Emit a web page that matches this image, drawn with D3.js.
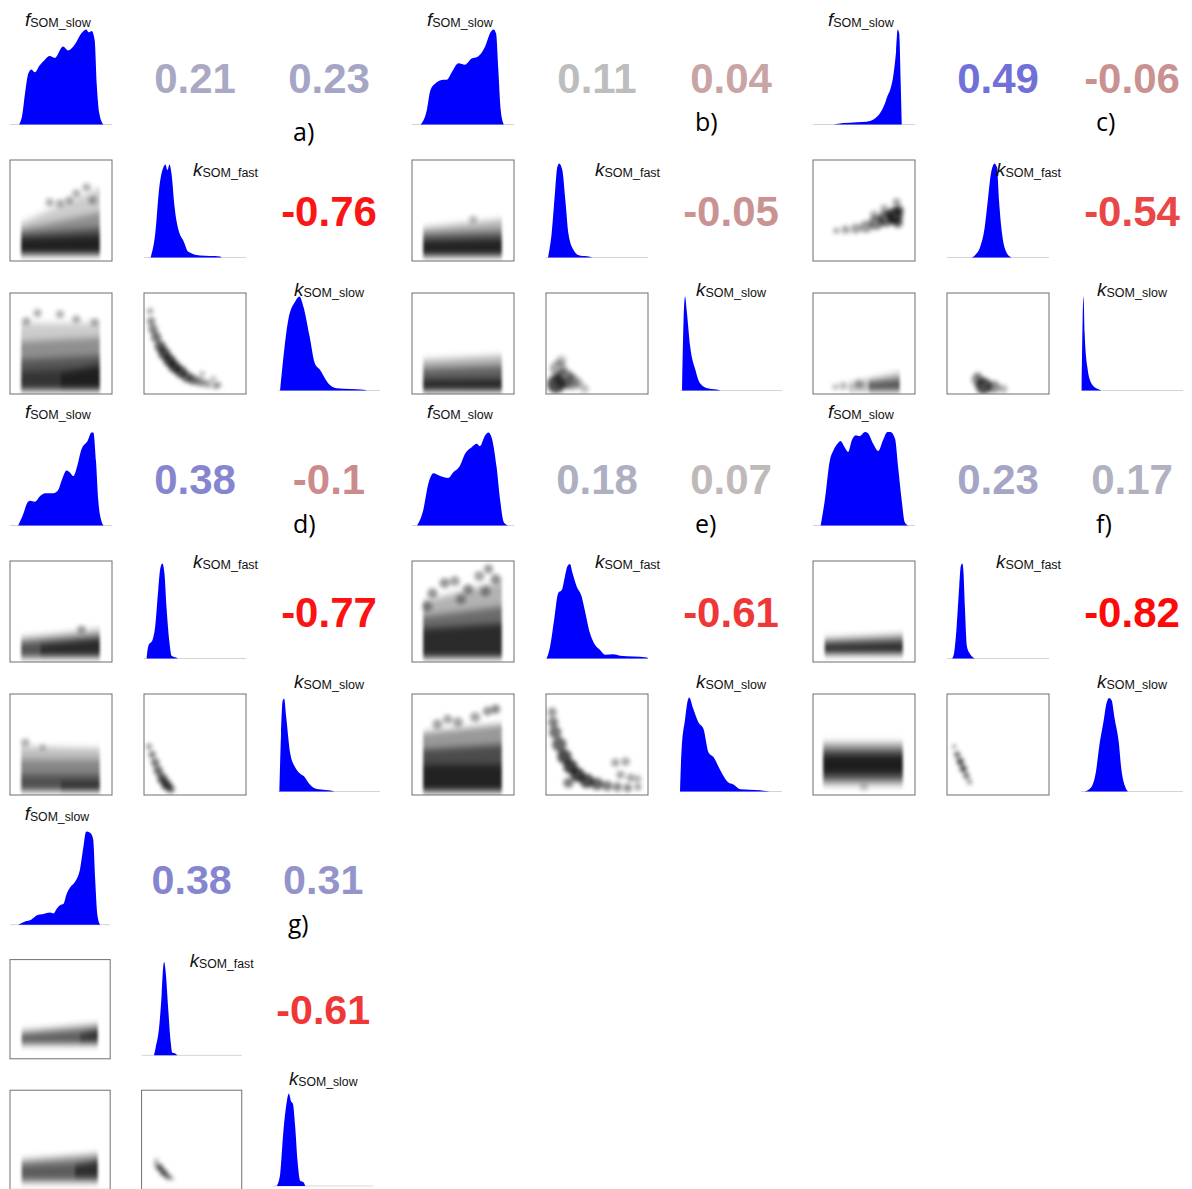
<!DOCTYPE html>
<html>
<head>
<meta charset="utf-8">
<title>pairs</title>
<script src="https://d3js.org/d3.v7.min.js"></script>
<style>
  body { margin: 0; background: #fff; }
  .num { font-family: "Liberation Sans", Arial, sans-serif; font-weight: bold; font-size: 42px; }
  .lab { font-family: "Liberation Sans", Arial, sans-serif; fill: #111; }
  .tag { font-family: "Open Sans", "Noto Sans", sans-serif; font-size: 25px; fill: #000; }
  .box { fill: none; stroke: #6e6e6e; stroke-width: 1; }
  .base { stroke: #d4d4d4; stroke-width: 1; }
  .dens { fill: #0000ff; }
</style>
</head>
<body>
<svg id="fig" width="1192" height="1189"></svg>
<script>
// panels a..g, variables f_SOM_slow, k_SOM_fast, k_SOM_slow
const panelIds = ["a", "b", "c", "d", "e", "f", "g"];
const varNames = [["f", "SOM_slow"], ["k", "SOM_fast"], ["k", "SOM_slow"]];

// correlations (upper triangle)
const corrFKf = [0.21, 0.11, 0.49, 0.38, 0.18, 0.23, 0.38];
const corrFKs = [0.23, 0.04, -0.06, -0.1, 0.07, 0.17, 0.31];
const corrKK = [-0.76, -0.05, -0.54, -0.77, -0.61, -0.82, -0.61];

// diagonal densities, [x, height] (both scaled 0..1)
const densF = [
  [[0.09,0],[0.12,0.1],[0.15,0.35],[0.18,0.54],[0.21,0.58],[0.245,0.55],[0.29,0.62],[0.34,0.68],[0.39,0.72],[0.44,0.70],[0.52,0.82],[0.57,0.78],[0.64,0.85],[0.70,0.96],[0.75,1.0],[0.77,0.97],[0.80,0.985],[0.83,0.89],[0.85,0.43],[0.875,0.12],[0.915,0]],
  [[0.085,0],[0.145,0.15],[0.18,0.36],[0.225,0.43],[0.31,0.47],[0.34,0.47],[0.39,0.55],[0.455,0.645],[0.52,0.63],[0.585,0.695],[0.64,0.71],[0.715,0.815],[0.77,0.97],[0.80,1.0],[0.825,0.955],[0.845,0.6],[0.87,0.15],[0.9,0]],
  [[0.2,0],[0.295,0.015],[0.43,0.025],[0.525,0.03],[0.61,0.065],[0.655,0.115],[0.705,0.22],[0.73,0.3],[0.755,0.36],[0.79,0.535],[0.815,0.78],[0.83,1.0],[0.845,0.96],[0.86,0.43],[0.87,0]],
  [[0.08,0],[0.13,0.12],[0.165,0.23],[0.195,0.26],[0.245,0.25],[0.295,0.31],[0.345,0.34],[0.425,0.34],[0.475,0.38],[0.505,0.47],[0.555,0.58],[0.59,0.555],[0.62,0.52],[0.66,0.63],[0.70,0.80],[0.76,0.89],[0.80,0.98],[0.817,0.98],[0.843,0.68],[0.866,0.26],[0.90,0.035],[0.92,0]],
  [[0.05,0],[0.11,0.16],[0.16,0.44],[0.21,0.55],[0.24,0.54],[0.29,0.515],[0.355,0.5],[0.405,0.56],[0.47,0.63],[0.52,0.755],[0.585,0.825],[0.635,0.86],[0.665,0.835],[0.715,0.945],[0.75,0.98],[0.78,0.93],[0.83,0.61],[0.865,0.26],[0.9,0.035],[0.945,0]],
  [[0.075,0],[0.115,0.26],[0.165,0.685],[0.2,0.79],[0.24,0.86],[0.27,0.89],[0.31,0.825],[0.345,0.775],[0.38,0.895],[0.42,0.95],[0.455,0.94],[0.51,0.985],[0.54,0.97],[0.59,0.86],[0.64,0.785],[0.685,0.895],[0.73,0.985],[0.76,0.985],[0.805,0.91],[0.835,0.61],[0.87,0.26],[0.9,0.035],[0.935,0]],
  [[0.083,0],[0.15,0.035],[0.215,0.057],[0.265,0.1],[0.335,0.115],[0.4,0.13],[0.435,0.12],[0.465,0.17],[0.5,0.21],[0.535,0.225],[0.565,0.33],[0.6,0.4],[0.65,0.46],[0.7,0.6],[0.735,0.85],[0.76,1.0],[0.8,0.985],[0.83,0.92],[0.85,0.49],[0.873,0.1],[0.9,0]]
];
const densKf = [
  [[0.065,0],[0.11,0.25],[0.15,0.74],[0.19,0.95],[0.21,0.98],[0.23,0.92],[0.25,0.98],[0.27,0.88],[0.30,0.53],[0.35,0.25],[0.385,0.18],[0.435,0.06],[0.55,0.02],[0.745,0.01],[0.76,0]],
  [[0.02,0],[0.055,0.25],[0.09,0.71],[0.11,0.95],[0.13,0.99],[0.16,0.92],[0.19,0.6],[0.22,0.25],[0.27,0.08],[0.33,0.02],[0.43,0.007],[0.45,0]],
  [[0.24,0],[0.275,0.025],[0.325,0.11],[0.37,0.32],[0.40,0.6],[0.43,0.88],[0.45,0.965],[0.465,0.99],[0.49,0.95],[0.51,0.6],[0.54,0.25],[0.58,0.06],[0.62,0.007],[0.63,0]],
  [[0.026,0],[0.042,0.13],[0.085,0.2],[0.11,0.34],[0.14,0.73],[0.16,0.95],[0.18,1.0],[0.2,0.9],[0.22,0.55],[0.25,0.165],[0.27,0.03],[0.32,0.007],[0.33,0]],
  [[0.006,0],[0.04,0.125],[0.08,0.41],[0.12,0.69],[0.155,0.72],[0.185,0.86],[0.21,0.97],[0.235,0.995],[0.26,0.9],[0.3,0.76],[0.35,0.65],[0.38,0.51],[0.43,0.27],[0.48,0.145],[0.53,0.09],[0.58,0.04],[0.66,0.045],[0.725,0.03],[0.855,0.02],[0.99,0.01],[1,0]],
  [[0.05,0],[0.07,0.06],[0.095,0.34],[0.12,0.76],[0.135,0.97],[0.15,1.0],[0.16,0.935],[0.175,0.55],[0.195,0.13],[0.225,0.05],[0.26,0.007],[0.27,0]],
  [[0.123,0],[0.14,0.08],[0.175,0.3],[0.2,0.65],[0.215,0.94],[0.225,1.0],[0.24,0.9],[0.265,0.51],[0.29,0.15],[0.305,0.03],[0.34,0.018],[0.357,0]]
];
const densKs = [
  [[0.02,0],[0.05,0.32],[0.10,0.74],[0.17,0.94],[0.21,0.99],[0.25,0.88],[0.31,0.57],[0.36,0.29],[0.41,0.22],[0.49,0.08],[0.575,0.025],[0.84,0.007],[0.87,0]],
  [[0.02,0],[0.035,0.74],[0.05,0.99],[0.065,0.85],[0.10,0.46],[0.15,0.22],[0.195,0.08],[0.28,0.02],[0.39,0.003],[0.40,0]],
  [[0.006,0],[0.016,0.74],[0.025,0.99],[0.036,0.6],[0.062,0.25],[0.10,0.08],[0.167,0.015],[0.20,0]],
  [[0.013,0],[0.03,0.61],[0.045,0.95],[0.06,0.98],[0.08,0.79],[0.12,0.4],[0.165,0.26],[0.215,0.19],[0.255,0.16],[0.30,0.09],[0.36,0.035],[0.445,0.018],[0.54,0.004],[0.55,0]],
  [[0,0],[0.016,0.45],[0.05,0.76],[0.075,0.955],[0.09,0.99],[0.13,0.87],[0.18,0.73],[0.23,0.66],[0.28,0.41],[0.33,0.36],[0.39,0.235],[0.475,0.095],[0.52,0.077],[0.59,0.025],[0.785,0.014],[0.88,0]],
  [[0.035,0],[0.10,0.045],[0.145,0.2],[0.18,0.485],[0.225,0.765],[0.245,0.905],[0.275,0.985],[0.30,0.96],[0.33,0.765],[0.37,0.52],[0.395,0.24],[0.43,0.06],[0.46,0]],
  [[0.037,0],[0.07,0.13],[0.10,0.56],[0.137,0.91],[0.157,0.99],[0.177,0.91],[0.197,0.88],[0.22,0.63],[0.243,0.27],[0.27,0.057],[0.303,0.04],[0.32,0]]
];

// lower triangle smoothed scatter: bands [x0, x1, yBottom, yTopLeft, yTopRight, alpha], blobs [x, y, r, alpha]
const bandsFKf = [
  [[0.11,0.88,0.06,0.38,0.72,0.2],[0.11,0.88,0.06,0.32,0.48,0.3],[0.11,0.88,0.06,0.27,0.33,0.45],[0.11,0.88,0.08,0.22,0.25,0.6]],
  [[0.11,0.88,0.04,0.33,0.41,0.3],[0.11,0.88,0.05,0.27,0.30,0.45],[0.11,0.88,0.06,0.20,0.22,0.65]],
  [],
  [[0.11,0.88,0.04,0.24,0.32,0.35],[0.11,0.88,0.05,0.19,0.25,0.5],[0.30,0.88,0.07,0.17,0.23,0.5]],
  [[0.11,0.88,0.04,0.60,0.80,0.3],[0.11,0.88,0.04,0.45,0.55,0.4],[0.11,0.88,0.05,0.33,0.38,0.6]],
  [[0.115,0.88,0.075,0.23,0.27,0.45],[0.115,0.88,0.09,0.18,0.20,0.7]],
  [[0.117,0.876,0.14,0.28,0.35,0.4],[0.117,0.876,0.16,0.24,0.29,0.4],[0.7,0.876,0.18,0.24,0.30,0.5]]
];
const blobsFKf = [
  [[0.75,0.73,0.04,0.3],[0.65,0.67,0.04,0.3],[0.39,0.58,0.04,0.3],[0.49,0.57,0.04,0.3],[0.58,0.60,0.04,0.3],[0.81,0.60,0.04,0.3]],
  [[0.6,0.41,0.04,0.25]],
  [[0.23,0.30,0.03,0.35],[0.32,0.31,0.04,0.35],[0.42,0.32,0.05,0.35],[0.52,0.34,0.06,0.4],[0.62,0.38,0.07,0.5],[0.72,0.42,0.08,0.6],[0.80,0.45,0.08,0.7],[0.84,0.50,0.05,0.6],[0.83,0.38,0.05,0.6],[0.60,0.46,0.04,0.3],[0.70,0.52,0.04,0.3],[0.82,0.58,0.04,0.35]],
  [[0.7,0.32,0.04,0.35]],
  [[0.2,0.68,0.05,0.4],[0.32,0.78,0.05,0.4],[0.42,0.80,0.05,0.35],[0.55,0.72,0.05,0.4],[0.66,0.85,0.05,0.35],[0.75,0.92,0.045,0.4],[0.82,0.82,0.05,0.4],[0.72,0.70,0.05,0.35],[0.15,0.55,0.05,0.35],[0.48,0.62,0.05,0.35]],
  [],
  []
];
const bandsFKs = [
  [[0.11,0.88,0.03,0.70,0.70,0.2],[0.11,0.88,0.03,0.52,0.56,0.3],[0.11,0.88,0.04,0.34,0.38,0.4],[0.11,0.88,0.05,0.22,0.26,0.4],[0.5,0.88,0.05,0.20,0.30,0.4]],
  [[0.11,0.88,0.03,0.34,0.38,0.3],[0.11,0.88,0.03,0.25,0.28,0.45],[0.11,0.88,0.03,0.14,0.15,0.6]],
  [[0.35,0.85,0.03,0.10,0.21,0.3],[0.55,0.85,0.03,0.12,0.14,0.55]],
  [[0.11,0.88,0.04,0.48,0.46,0.25],[0.11,0.88,0.04,0.35,0.35,0.3],[0.11,0.88,0.04,0.20,0.20,0.4],[0.5,0.88,0.04,0.12,0.12,0.5]],
  [[0.11,0.88,0.03,0.62,0.70,0.4],[0.11,0.88,0.03,0.45,0.50,0.5],[0.11,0.88,0.05,0.30,0.30,0.55]],
  [[0.10,0.88,0.10,0.52,0.52,0.35],[0.10,0.88,0.15,0.45,0.45,0.5],[0.10,0.88,0.21,0.39,0.39,0.65]],
  [[0.117,0.876,0.07,0.30,0.36,0.4],[0.117,0.876,0.10,0.24,0.28,0.4],[0.65,0.876,0.12,0.24,0.30,0.5]]
];
const blobsFKs = [
  [[0.27,0.80,0.04,0.3],[0.49,0.79,0.04,0.3],[0.65,0.74,0.04,0.3],[0.83,0.71,0.04,0.3],[0.16,0.72,0.04,0.3]],
  [],
  [[0.22,0.07,0.03,0.25],[0.30,0.08,0.04,0.25],[0.45,0.10,0.04,0.3]],
  [[0.15,0.52,0.04,0.3],[0.32,0.47,0.03,0.25]],
  [[0.74,0.83,0.045,0.4],[0.82,0.85,0.045,0.45],[0.62,0.77,0.05,0.35],[0.45,0.72,0.05,0.35],[0.35,0.75,0.045,0.35],[0.25,0.70,0.05,0.35]],
  [[0.5,0.08,0.04,0.2]],
  []
];
const blobsKK = [
  [[0.06,0.82,0.03,0.35],[0.07,0.72,0.04,0.45],[0.09,0.64,0.045,0.5],[0.12,0.56,0.05,0.55],[0.16,0.47,0.055,0.65],[0.20,0.40,0.06,0.7],[0.25,0.33,0.06,0.75],[0.30,0.27,0.06,0.75],[0.36,0.22,0.06,0.7],[0.42,0.17,0.055,0.6],[0.48,0.14,0.05,0.55],[0.55,0.12,0.045,0.45],[0.62,0.10,0.04,0.35],[0.70,0.08,0.035,0.3],[0.57,0.20,0.03,0.25],[0.68,0.15,0.03,0.25],[0.73,0.09,0.03,0.3]],
  [[0.10,0.10,0.09,0.7],[0.18,0.15,0.1,0.45],[0.12,0.25,0.08,0.35],[0.25,0.12,0.08,0.35],[0.32,0.10,0.05,0.25],[0.38,0.05,0.04,0.25],[0.15,0.33,0.05,0.25]],
  [[0.36,0.08,0.08,0.7],[0.30,0.14,0.06,0.4],[0.46,0.07,0.06,0.45],[0.55,0.05,0.04,0.3],[0.30,0.18,0.04,0.25]],
  [[0.05,0.48,0.03,0.4],[0.08,0.40,0.035,0.5],[0.11,0.32,0.04,0.55],[0.14,0.24,0.045,0.6],[0.18,0.16,0.05,0.7],[0.22,0.10,0.05,0.75],[0.26,0.06,0.04,0.6]],
  [[0.06,0.82,0.045,0.4],[0.07,0.72,0.05,0.5],[0.09,0.62,0.06,0.55],[0.13,0.50,0.07,0.6],[0.18,0.38,0.07,0.7],[0.24,0.28,0.07,0.75],[0.31,0.20,0.07,0.75],[0.40,0.14,0.07,0.7],[0.50,0.11,0.06,0.6],[0.60,0.09,0.05,0.5],[0.70,0.08,0.045,0.45],[0.80,0.07,0.04,0.45],[0.68,0.32,0.04,0.35],[0.78,0.33,0.04,0.35],[0.73,0.20,0.04,0.35],[0.83,0.17,0.04,0.35],[0.90,0.16,0.035,0.3],[0.90,0.08,0.035,0.35],[0.22,0.12,0.05,0.5]],
  [[0.07,0.48,0.02,0.45],[0.10,0.40,0.03,0.6],[0.13,0.33,0.035,0.7],[0.16,0.26,0.035,0.7],[0.19,0.19,0.03,0.6],[0.22,0.13,0.025,0.45]],
  [[0.15,0.29,0.02,0.45],[0.18,0.22,0.035,0.7],[0.22,0.17,0.035,0.7],[0.26,0.13,0.03,0.6],[0.30,0.11,0.02,0.4],[0.14,0.25,0.02,0.35]]
];

// layout
const panelX = [10, 412, 813, 10, 412, 813, 10];
const panelY = [27, 27, 27, 428, 428, 428, 829];
const panelScale = [1, 1, 1, 1, 1, 1, 0.982];
const labelShift = [0, 0, 0, -9, -9, -9, -8];
const tagY = [114, 104, 104, 105, 105, 105, 106];
const labelPos = [[15, -1], [49, 16], [16, 3]];
const W = 102, H = 101, stepX = 134, stepY = 133;

const svg = d3.select("#fig");
const defs = svg.append("defs");
defs.append("filter")
  .attr("id", "blurBand").attr("x", "-30%").attr("y", "-30%").attr("width", "160%").attr("height", "160%")
  .append("feGaussianBlur").attr("stdDeviation", "1.4 3.6");
defs.append("filter")
  .attr("id", "blurDot").attr("x", "-30%").attr("y", "-30%").attr("width", "160%").attr("height", "160%")
  .append("feGaussianBlur").attr("stdDeviation", 2);

const x = d3.scaleLinear([0, 1], [0, W]);
const y = d3.scaleLinear([0, 1], [H, 0]);
const yd = d3.scaleLinear([0, 1], [97.5, 2.5]);
const area = d3.area().x(d => x(d[0])).y0(yd(0)).y1(d => yd(d[1])).curve(d3.curveMonotoneX);
const corrColor = d3.scaleLinear()
  .domain([-0.82, -0.5, -0.05, 0.04, 0.07, 0.11, 0.49])
  .range(["#ff0808", "#e84f4f", "#c99393", "#c9a4a4", "#bfb9b9", "#bdbdbd", "#7070d8"])
  .clamp(true);

function cell(g, row, col) {
  return g.append("g").attr("transform", `translate(${col * stepX},${row * stepY})`);
}

function cloud(g, id, bands, blobs) {
  g.append("clipPath").attr("id", id).append("rect").attr("width", W).attr("height", H);
  const clip = g.append("g").attr("clip-path", `url(#${id})`);
  clip.append("g").attr("filter", "url(#blurBand)")
    .selectAll("polygon").data(bands).join("polygon")
    .attr("points", b => [[x(b[0]), y(b[2])], [x(b[1]), y(b[2])], [x(b[1]), y(b[4])], [x(b[0]), y(b[3])]].join(" "))
    .attr("fill", "#000").attr("fill-opacity", b => b[5]);
  clip.append("g").attr("filter", "url(#blurDot)")
    .selectAll("circle").data(blobs).join("circle")
    .attr("cx", b => x(b[0])).attr("cy", b => y(b[1])).attr("r", b => x(b[2]))
    .attr("fill", "#000").attr("fill-opacity", b => b[3]);
  g.append("rect").attr("class", "box").attr("x", 0).attr("y", 0).attr("width", W).attr("height", H);
}

function density(g, pts) {
  g.append("line").attr("class", "base").attr("x1", 0).attr("x2", W).attr("y1", yd(0)).attr("y2", yd(0));
  g.append("path").attr("class", "dens").attr("d", area(pts));
}

function label(g, v, shift) {
  const t = g.append("text").attr("class", "lab")
    .attr("x", labelPos[v][0]).attr("y", labelPos[v][1] + shift);
  t.append("tspan").attr("font-style", "italic").attr("font-size", 19).text(varNames[v][0]);
  t.append("tspan").attr("font-size", 12.5).attr("dy", 1).text(varNames[v][1]);
}

function corr(g, v) {
  g.append("text").attr("class", "num")
    .attr("x", W / 2).attr("y", 66).attr("text-anchor", "middle")
    .attr("fill", corrColor(v)).text(String(v));
}

panelIds.forEach((id, p) => {
  const g = svg.append("g")
    .attr("transform", `translate(${panelX[p]},${panelY[p]}) scale(${panelScale[p]})`);
  const dens = [densF[p], densKf[p], densKs[p]];
  dens.forEach((d, i) => {
    const c = cell(g, i, i);
    density(c, d);
    label(c, i, labelShift[p]);
  });
  corr(cell(g, 0, 1), corrFKf[p]);
  corr(cell(g, 0, 2), corrFKs[p]);
  corr(cell(g, 1, 2), corrKK[p]);
  cloud(cell(g, 1, 0), `c${p}a`, bandsFKf[p], blobsFKf[p]);
  cloud(cell(g, 2, 0), `c${p}b`, bandsFKs[p], blobsFKs[p]);
  cloud(cell(g, 2, 1), `c${p}c`, [], blobsKK[p]);
  g.append("text").attr("class", "tag").attr("x", 283).attr("y", tagY[p]).text(id + ")");
});
</script>
</body>
</html>
